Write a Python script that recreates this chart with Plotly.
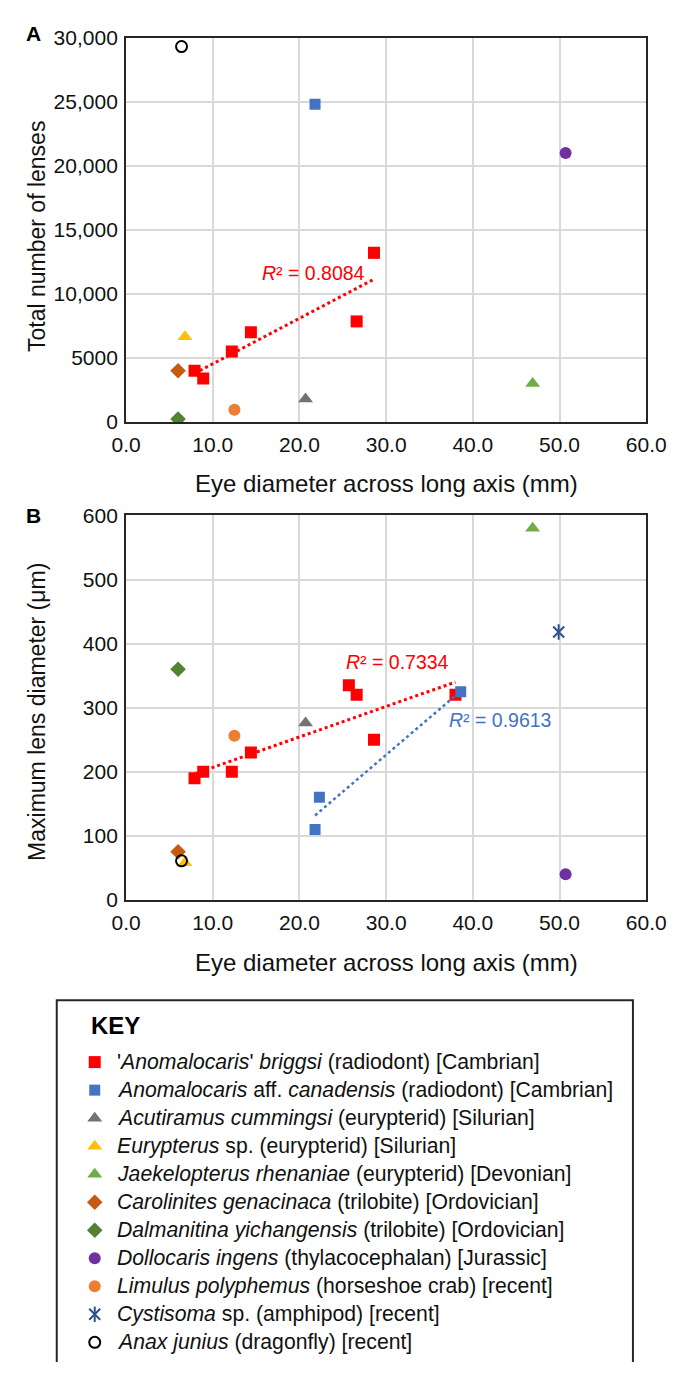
import numpy as np
import plotly.graph_objects as go

# ---------------- data ----------------
species = [
    "'<i>Anomalocaris</i>' <i>briggsi</i> (radiodont) [Cambrian]",
    "<i>Anomalocaris</i> aff. <i>canadensis</i> (radiodont) [Cambrian]",
    "<i>Acutiramus cummingsi</i> (eurypterid) [Silurian]",
    "<i>Eurypterus</i> sp. (eurypterid) [Silurian]",
    "<i>Jaekelopterus rhenaniae</i> (eurypterid) [Devonian]",
    "<i>Carolinites genacinaca</i> (trilobite) [Ordovician]",
    "<i>Dalmanitina yichangensis</i> (trilobite) [Ordovician]",
    "<i>Dollocaris ingens</i> (thylacocephalan) [Jurassic]",
    "<i>Limulus polyphemus</i> (horseshoe crab) [recent]",
    "<i>Cystisoma</i> sp. (amphipod) [recent]",
    "<i>Anax junius</i> (dragonfly) [recent]",
]

# Panel A: eye diameter (mm) vs total number of lenses
a_briggsi_x = [7.9, 8.9, 12.2, 14.4, 26.6, 28.6]
a_briggsi_y = [4000, 3400, 5500, 7000, 7850, 13200]
a_canadensis_x = [21.8]
a_canadensis_y = [24800]
a_acutiramus_x = [20.7]
a_acutiramus_y = [1800]
a_eurypterus_x = [6.8]
a_eurypterus_y = [6650]
a_jaekelopterus_x = [46.9]
a_jaekelopterus_y = [3000]
a_carolinites_x = [6.0]
a_carolinites_y = [4000]
a_dalmanitina_x = [6.0]
a_dalmanitina_y = [230]
a_dollocaris_x = [50.7]
a_dollocaris_y = [21000]
a_limulus_x = [12.5]
a_limulus_y = [950]
a_cystisoma_x = []
a_cystisoma_y = []
a_anax_x = [6.4]
a_anax_y = [29300]

# Panel B: eye diameter (mm) vs maximum lens diameter (um)
b_briggsi_x = [7.9, 8.9, 12.2, 14.4, 25.7, 26.6, 28.6, 38.0]
b_briggsi_y = [190, 200, 200, 230, 335, 320, 250, 320]
b_canadensis_x = [21.8, 22.3, 38.6]
b_canadensis_y = [110, 160, 325]
b_acutiramus_x = [20.7]
b_acutiramus_y = [276]
b_eurypterus_x = [6.8]
b_eurypterus_y = [58]
b_jaekelopterus_x = [46.9]
b_jaekelopterus_y = [580]
b_carolinites_x = [6.0]
b_carolinites_y = [75]
b_dalmanitina_x = [6.0]
b_dalmanitina_y = [360]
b_dollocaris_x = [50.7]
b_dollocaris_y = [40]
b_limulus_x = [12.5]
b_limulus_y = [256]
b_cystisoma_x = [49.9]
b_cystisoma_y = [418]
b_anax_x = [6.4]
b_anax_y = [61]

r2_labels = ["<i>R</i>² = 0.8084", "<i>R</i>² = 0.7334", "<i>R</i>² = 0.9613"]
x_ticks = [0, 10, 20, 30, 40, 50, 60]
a_y_ticks = [0, 5000, 10000, 15000, 20000, 25000, 30000]
a_y_ticktext = ["0", "5000", "10,000", "15,000", "20,000", "25,000", "30,000"]
b_y_ticks = [0, 100, 200, 300, 400, 500, 600]

panel_a = [
    (a_briggsi_x, a_briggsi_y), (a_canadensis_x, a_canadensis_y),
    (a_acutiramus_x, a_acutiramus_y), (a_eurypterus_x, a_eurypterus_y),
    (a_jaekelopterus_x, a_jaekelopterus_y), (a_carolinites_x, a_carolinites_y),
    (a_dalmanitina_x, a_dalmanitina_y), (a_dollocaris_x, a_dollocaris_y),
    (a_limulus_x, a_limulus_y), (a_cystisoma_x, a_cystisoma_y), (a_anax_x, a_anax_y),
]
panel_b = [
    (b_briggsi_x, b_briggsi_y), (b_canadensis_x, b_canadensis_y),
    (b_acutiramus_x, b_acutiramus_y), (b_eurypterus_x, b_eurypterus_y),
    (b_jaekelopterus_x, b_jaekelopterus_y), (b_carolinites_x, b_carolinites_y),
    (b_dalmanitina_x, b_dalmanitina_y), (b_dollocaris_x, b_dollocaris_y),
    (b_limulus_x, b_limulus_y), (b_cystisoma_x, b_cystisoma_y), (b_anax_x, b_anax_y),
]

# ---------------- styles / layout ----------------
FONT = "Arial, 'Liberation Sans', sans-serif"
W, H = 689, 1373
styles = [
    dict(symbol="square", color="#FF0000", size=12),
    dict(symbol="square", color="#4472C4", size=11),
    dict(symbol="triangle-up", color="#767171", size=13),
    dict(symbol="triangle-up", color="#FFC000", size=13),
    dict(symbol="triangle-up", color="#70AD47", size=13),
    dict(symbol="diamond", color="#C55A11", size=12),
    dict(symbol="diamond", color="#548235", size=12),
    dict(symbol="circle", color="#7030A0", size=12),
    dict(symbol="circle", color="#ED7D31", size=12),
    dict(symbol="x-thin-open", color="#2F4F8F", size=11),
    dict(symbol="circle-open", color="#000000", size=11),
]
KEY_MARK_X, KEY_TEXT_X, KEY_ROW0, KEY_DY = 84, 105, 1068, 28.5


def py(p):
    return 1 - p / H


def px(p):
    return p / W


def marker_of(st):
    mk = dict(symbol=st["symbol"], color=st["color"], size=st["size"])
    if "open" in st["symbol"]:
        mk["line"] = dict(color=st["color"], width=2)
    return mk


def add_points(xs, ys, st, xa, ya):
    if not len(xs):
        return
    fig.add_trace(go.Scatter(x=xs, y=ys, mode="markers", marker=marker_of(st),
                             xaxis=xa, yaxis=ya, showlegend=False, hoverinfo="x+y"))
    if st["symbol"] == "x-thin-open":
        fig.add_trace(go.Scatter(
            x=xs, y=ys, mode="markers",
            marker=dict(symbol="line-ns-open", size=st["size"], color=st["color"],
                        line=dict(color=st["color"], width=2)),
            xaxis=xa, yaxis=ya, showlegend=False, hoverinfo="skip"))


fig = go.Figure()

for i, name in enumerate(species):
    st = styles[i]
    add_points(*panel_a[i], st, "x", "y")
    add_points(*panel_b[i], st, "x2", "y2")
    # key entry (marker drawn on a hidden pixel-space axis)
    add_points([KEY_MARK_X], [KEY_ROW0 + i * KEY_DY], st, "x3", "y3")


def trend(xs, ys, color, xa, ya, width):
    xs = np.asarray(xs, float)
    ys = np.asarray(ys, float)
    m, c = np.polyfit(xs, ys, 1)
    xx = np.array([xs.min(), xs.max()])
    fig.add_trace(go.Scatter(
        x=xx, y=m * xx + c, mode="lines", line=dict(color=color, width=width, dash="dot"),
        xaxis=xa, yaxis=ya, showlegend=False, hoverinfo="skip",
    ))


trend(a_briggsi_x, a_briggsi_y, "#FF0000", "x", "y", 3)
trend(b_briggsi_x, b_briggsi_y, "#FF0000", "x2", "y2", 3)
trend(b_canadensis_x, b_canadensis_y, "#4472C4", "x2", "y2", 2.5)

axis_common = dict(
    showline=True, linecolor="#262626", linewidth=2, mirror=True,
    showgrid=True, gridcolor="#D9D9D9", gridwidth=1.5, zeroline=False,
    ticks="outside", tickcolor="rgba(0,0,0,0)",
    tickfont=dict(size=21, color="#111111", family=FONT),
)
xdom = [px(117), px(665)]

fig.update_layout(
    width=W, height=H,
    margin=dict(l=0, r=0, t=0, b=0),
    paper_bgcolor="white", plot_bgcolor="white",
    font=dict(family=FONT, color="#111111"),
    showlegend=False,
    xaxis=dict(domain=xdom, range=[0, 60], tickvals=x_ticks, tickformat=".1f", anchor="y",
               ticklen=3, **axis_common),
    yaxis=dict(domain=[py(417), py(26)], range=[0, 30000], tickvals=a_y_ticks, ticktext=a_y_ticktext,
               anchor="x", ticklen=2, **axis_common),
    xaxis2=dict(domain=xdom, range=[0, 60], tickvals=x_ticks, tickformat=".1f", anchor="y2",
                ticklen=3, **axis_common),
    yaxis2=dict(domain=[py(903), py(512)], range=[0, 600], tickvals=b_y_ticks, anchor="x2",
                ticklen=2, **axis_common),
    xaxis3=dict(domain=[0, 1], range=[0, W], visible=False, anchor="y3", fixedrange=True),
    yaxis3=dict(domain=[0, py(1005)], range=[H, 1005], visible=False, anchor="x3", fixedrange=True),
)

# key frame: open at the bottom (continues past the picture edge)
lx0, lx1, ltop = px(44), px(651), py(1005)
fig.add_shape(type="path", xref="paper", yref="paper",
              path=f"M {lx0},0 L {lx0},{ltop} L {lx1},{ltop} L {lx1},0",
              line=dict(color="#262626", width=2))

ann = []
ann.append(dict(text="<b>KEY</b>", x=px(78), y=py(1031), xref="paper", yref="paper",
                xanchor="left", yanchor="middle", showarrow=False, font=dict(size=24, family=FONT, color="#000")))
for i, name in enumerate(species):
    ann.append(dict(text=name, x=px(KEY_TEXT_X), y=py(KEY_ROW0 + i * KEY_DY), xref="paper", yref="paper",
                    xanchor="left", yanchor="middle", showarrow=False,
                    font=dict(size=21.2, family=FONT, color="#111")))
ann.append(dict(text="<b>A</b>", x=px(9), y=py(22), xref="paper", yref="paper",
                xanchor="left", yanchor="middle", showarrow=False, font=dict(size=21, family=FONT, color="#000")))
ann.append(dict(text="<b>B</b>", x=px(9), y=py(512), xref="paper", yref="paper",
                xanchor="left", yanchor="middle", showarrow=False, font=dict(size=21, family=FONT, color="#000")))
ann.append(dict(text="Eye diameter across long axis (mm)", x=px(391), y=py(480), xref="paper", yref="paper",
                xanchor="center", yanchor="middle", showarrow=False, font=dict(size=24, family=FONT, color="#111")))
ann.append(dict(text="Eye diameter across long axis (mm)", x=px(391), y=py(967), xref="paper", yref="paper",
                xanchor="center", yanchor="middle", showarrow=False, font=dict(size=24, family=FONT, color="#111")))
ann.append(dict(text="Total number of lenses", x=px(23), y=py(228), xref="paper", yref="paper", textangle=-90,
                xanchor="center", yanchor="middle", showarrow=False, font=dict(size=23, family=FONT, color="#111")))
ann.append(dict(text="Maximum lens diameter (μm)", x=px(23), y=py(712), xref="paper", yref="paper", textangle=-90,
                xanchor="center", yanchor="middle", showarrow=False, font=dict(size=23, family=FONT, color="#111")))
# R² labels in data coordinates
ann.append(dict(text=r2_labels[0], x=21.6, y=11600, xref="x", yref="y", showarrow=False,
                font=dict(size=19.5, family=FONT, color="#FF0000")))
ann.append(dict(text=r2_labels[1], x=31.3, y=372, xref="x2", yref="y2", showarrow=False,
                font=dict(size=19.5, family=FONT, color="#FF0000")))
ann.append(dict(text=r2_labels[2], x=43.1, y=280, xref="x2", yref="y2", showarrow=False,
                font=dict(size=19.5, family=FONT, color="#4472C4")))
fig.update_layout(annotations=ann)

fig.write_html(
    "out.html",
    config={"displayModeBar": False},
    post_script=(
        "document.documentElement.style.overflow='hidden';"
        "document.body.style.margin='0';document.body.style.overflow='hidden';"
        "var gd=document.getElementById('{plot_id}');gd.style.overflow='hidden';"
    ),
)
